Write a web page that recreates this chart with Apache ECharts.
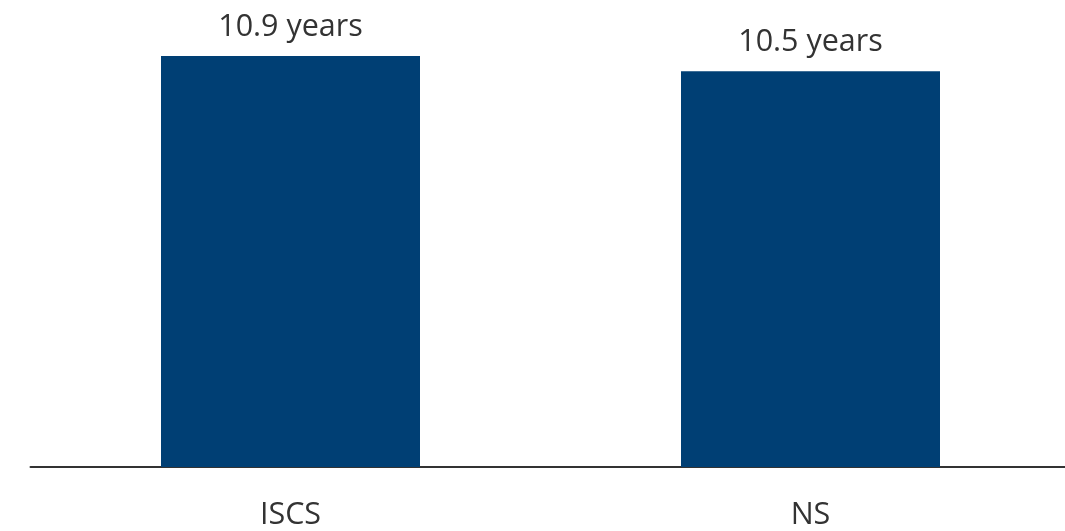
<!DOCTYPE html>
<html><head><meta charset="utf-8">
<script src="https://cdn.jsdelivr.net/npm/echarts@6/dist/echarts.min.js"></script>
<style>html,body{margin:0;padding:0;background:#fff}#c{width:1065px;height:531px}</style>
</head><body><div id="c"></div>
<script>
const categories = ["ISCS", "NS"];
const values = [10.9, 10.5];
const valueLabels = ["10.9 years", "10.5 years"];

const chart = echarts.init(document.getElementById('c'), null, {renderer: 'canvas'});
chart.setOption({
  animation: false,
  grid: {left: 30.5, width: 1040, top: 14.6, height: 452.4, containLabel: false, outerBoundsMode: 'none'},
  xAxis: {
    type: 'category', data: categories,
    axisLine: {lineStyle: {color: '#333', width: 2}},
    axisTick: {show: false},
    axisLabel: {fontFamily: 'Open Sans', fontSize: 30.5, color: '#333', margin: 33}
  },
  yAxis: {type: 'value', min: 0, max: 12, show: false, splitLine: {show: false}},
  series: [{
    type: 'bar', data: values, barWidth: 259,
    itemStyle: {color: '#003f74'},
    label: {
      show: true, position: 'top', distance: 13,
      fontFamily: 'Open Sans', fontSize: 30.5, color: '#333',
      formatter: p => valueLabels[p.dataIndex]
    }
  }]
});
</script></body></html>
